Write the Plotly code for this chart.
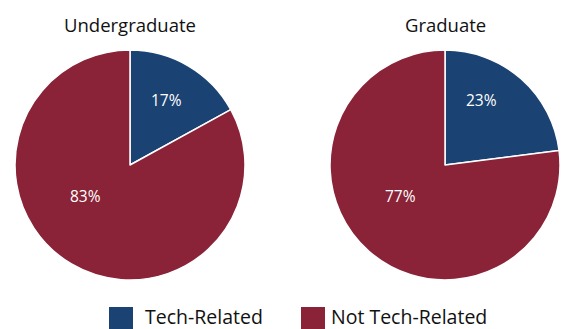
import plotly.graph_objects as go

# Share of degrees by field type
groups = ["Undergraduate", "Graduate"]
categories = ["Tech-Related", "Not Tech-Related"]
undergrad_pct = [17, 83]
grad_pct = [23, 77]

colors = ["#1a4272", "#8a2337"]
font_family = "Open Sans, Noto Sans, sans-serif"

W, H = 561, 329

# Pie layout in pixels: centre x of each pie, shared centre y and radius
pie_cx = [130, 445]
pie_cy = 165
pie_r = 115

# Label anchors per slice, as fractions of the radius (dx right, dy down)
label_offsets = [(0.32, -0.565), (-0.385, 0.27)]


def px_x(x):
    return x / W


def px_y(y):
    return (H - y) / H


fig = go.Figure()
annotations = []
for i, (name, vals) in enumerate(zip(groups, [undergrad_pct, grad_pct])):
    cx = pie_cx[i]
    fig.add_trace(go.Pie(
        labels=categories,
        values=vals,
        sort=False,
        direction="clockwise",
        rotation=0,
        marker=dict(colors=colors, line=dict(color="white", width=1.5)),
        textinfo="none",
        domain=dict(x=[px_x(cx - pie_r), px_x(cx + pie_r)],
                    y=[px_y(pie_cy + pie_r), px_y(pie_cy - pie_r)]),
        hoverinfo="label+percent",
        showlegend=False,
    ))
    # group title above each pie
    annotations.append(dict(
        text=name, x=px_x(cx), y=px_y(25), xref="paper", yref="paper",
        xanchor="center", yanchor="middle", showarrow=False,
        font=dict(size=18.5, color="#111", family=font_family),
    ))
    # percentage labels inside the slices
    for v, (dx, dy) in zip(vals, label_offsets):
        annotations.append(dict(
            text=f"{v}%", x=px_x(cx + dx * pie_r), y=px_y(pie_cy + dy * pie_r),
            xref="paper", yref="paper", xanchor="center", yanchor="middle",
            showarrow=False,
            font=dict(size=15.5, color="white", family=font_family),
        ))

# Legend drawn as swatches with text beside them
legend_swatch_x = [109, 301]
legend_text_x = [143, 329]
shapes = []
for cat, col, sx, tx in zip(categories, colors, legend_swatch_x, legend_text_x):
    shapes.append(dict(
        type="rect", xref="paper", yref="paper",
        x0=px_x(sx), x1=px_x(sx + 24), y0=px_y(331), y1=px_y(307),
        fillcolor=col, line=dict(width=0),
    ))
    annotations.append(dict(
        text=cat, x=px_x(tx), y=px_y(316), xref="paper", yref="paper",
        xanchor="left", yanchor="middle", showarrow=False,
        font=dict(size=19.5, color="#111", family=font_family),
    ))

fig.update_layout(
    width=W, height=H,
    margin=dict(l=0, r=0, t=0, b=0),
    paper_bgcolor="white",
    font=dict(family=font_family, color="#111"),
    annotations=annotations,
    shapes=shapes,
    showlegend=False,
)

fig.write_html("out.html")
